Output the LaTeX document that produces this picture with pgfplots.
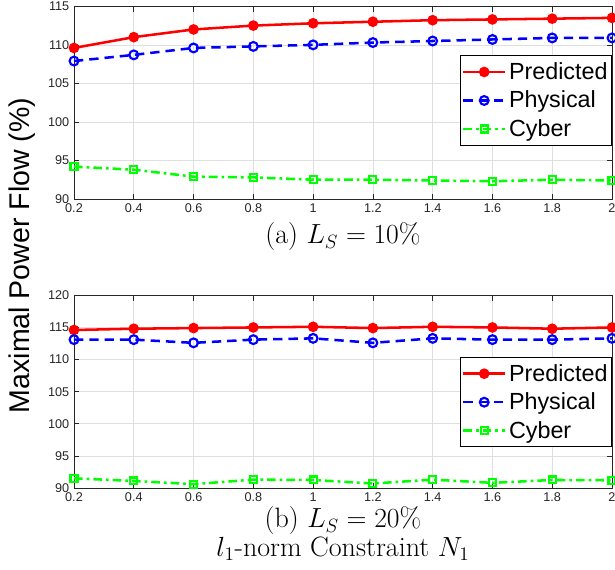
\documentclass[border=0pt]{standalone}
\usepackage{pgfplots}
\pgfplotsset{compat=1.18}
\usepackage{fontspec}
\setsansfont{Liberation Sans}
\definecolor{tickgray}{RGB}{38,38,38}
\definecolor{gridgray}{RGB}{223,223,223}
\pgfplotstableread{
x pred phys cyber
0.2 109.6 107.9 94.2
0.4 111.0 108.7 93.8
0.6 112.0 109.6 92.9
0.8 112.5 109.8 92.8
1.0 112.8 110.0 92.5
1.2 113.0 110.3 92.5
1.4 113.2 110.5 92.4
1.6 113.3 110.7 92.3
1.8 113.4 110.9 92.5
2.0 113.5 110.9 92.4
}\tableA
\pgfplotstableread{
x pred phys cyber
0.2 114.6 113.1 91.5
0.4 114.8 113.1 91.1
0.6 114.9 112.6 90.6
0.8 115.0 113.1 91.3
1.0 115.1 113.3 91.25
1.2 114.9 112.6 90.7
1.4 115.1 113.3 91.3
1.6 115.0 113.1 90.8
1.8 114.8 113.1 91.25
2.0 115.0 113.3 91.2
}\tableB
\pgfplotsset{
  myaxis/.style={
    scale only axis,
    width=403.5pt, height=144.5pt,
    xmin=0.2, xmax=2,
    xtick={0.2,0.4,...,2.01},
    grid=major,
    major grid style={gridgray, line width=0.5pt},
    tick align=inside,
    major tick length=4pt,
    axis line style={tickgray, line width=0.6pt},
    tick style={tickgray, line width=0.5pt},
    tick label style={font=\sffamily\fontsize{9.5}{11}\selectfont, text=tickgray},
    /pgf/number format/assume math mode=true,
    legend cell align=left,
    legend style={font=\sffamily\fontsize{17.5}{21}\selectfont, draw=black, line width=0.6pt, fill=white, inner xsep=1pt, inner ysep=3pt, row sep=3.2pt},
    legend image code/.code={\draw[mark repeat=2,mark phase=2] plot coordinates {(0cm,0cm) (0.55cm,0cm) (1.1cm,0cm)};},
  },
  predstyle/.style={red, line width=1.9pt, mark=*, mark size=3pt, mark options={solid, fill=red}},
  physstyle/.style={blue, line width=1.9pt, dash pattern=on 7pt off 4.5pt, mark=o, mark size=3.3pt, mark options={solid, line width=1.6pt}},
  cyberstyle/.style={green, line width=1.9pt, dash pattern=on 6.5pt off 3pt on 2pt off 3pt, mark=square, mark size=2.6pt, mark options={solid, line width=1.6pt}},
}
\begin{document}
\begin{tikzpicture}
\path[use as bounding box] (-55.5pt,-61.5pt) rectangle (405.75pt,366pt);
\begin{axis}[myaxis, at={(0pt,216.75pt)}, anchor=south west,
  ymin=90, ymax=115, ytick={90,95,...,115},
  legend style={at={(rel axis cs:1,0.745)}, anchor=north east}]
\addplot[predstyle] table[x=x,y=pred]{\tableA};
\addplot[physstyle] table[x=x,y=phys]{\tableA};
\addplot[cyberstyle] table[x=x,y=cyber]{\tableA};
\legend{Predicted,Physical,Cyber}
\end{axis}
\begin{axis}[myaxis, at={(0pt,0pt)}, anchor=south west,
  ymin=90, ymax=120, ytick={90,95,...,120},
  legend style={at={(rel axis cs:1,0.679)}, anchor=north east}]
\addplot[predstyle] table[x=x,y=pred]{\tableB};
\addplot[physstyle] table[x=x,y=phys]{\tableB};
\addplot[cyberstyle] table[x=x,y=cyber]{\tableB};
\legend{Predicted,Physical,Cyber}
\end{axis}
\node[font=\fontsize{21}{24}\selectfont] at (201.75pt,188.25pt) {(a) $L_S = 10\%$};
\node[font=\fontsize{21}{24}\selectfont] at (201.75pt,-24.75pt) {(b) $L_S = 20\%$};
\node[font=\fontsize{21}{24}\selectfont] at (201.75pt,-45.75pt) {$l_1$-norm Constraint $N_1$};
\node[font=\sffamily\fontsize{21.4}{25}\selectfont, rotate=90, text=black] at (-39pt,174.4pt) {Maximal Power Flow (\%)};
\end{tikzpicture}
\end{document}
